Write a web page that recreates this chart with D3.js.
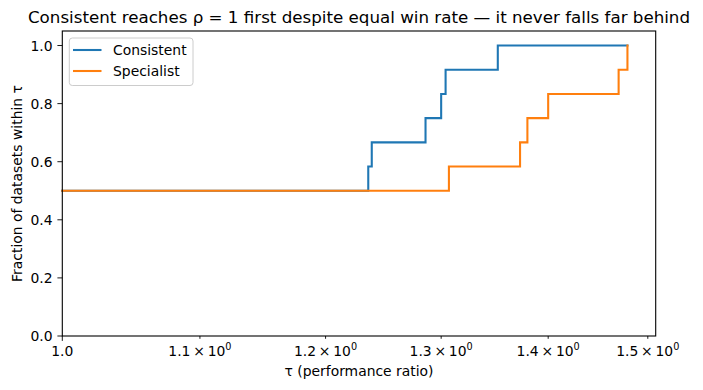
<!DOCTYPE html>
<html>
<head>
<meta charset="utf-8">
<script src="https://cdn.jsdelivr.net/npm/d3@7"></script>
<style>
  body { margin: 0; background: #fff; }
  text { font-family: "DejaVu Sans", sans-serif; fill: #000; }
</style>
</head>
<body>
<svg id="chart" width="703" height="390"></svg>
<script>
// ---- data ----
const seriesNames = ["Consistent", "Specialist"];
const consistentRatios = [1, 1, 1, 1, 1, 1, 1.236, 1.239, 1.286, 1.300, 1.304, 1.352];
const specialistRatios = [1, 1, 1, 1, 1, 1, 1.307, 1.373, 1.380, 1.400, 1.470, 1.479];
const xTicks = [1.0, 1.1, 1.2, 1.3, 1.4, 1.5];
const yTicks = [0.0, 0.2, 0.4, 0.6, 0.8, 1.0];
const colors = ["#1f77b4", "#ff7f0e"];

const svg = d3.select("#chart");
const margin = { left: 62.3, right: 703 - 655.7, top: 31, bottom: 390 - 336 };
const W = 703, H = 390;

const tauMax = d3.max([...consistentRatios, ...specialistRatios]);
const logMax = Math.log(tauMax);
const xMax = Math.exp(logMax * 1.05);

const x = d3.scaleLog().domain([1.0, xMax]).range([margin.left, W - margin.right]);
const y = d3.scaleLinear().domain([0, 1.05]).range([H - margin.bottom, margin.top]);

// ECDF step points
function profile(ratios) {
  const sorted = ratios.slice().sort((a, b) => a - b);
  const n = sorted.length;
  const uniq = Array.from(new Set(sorted));
  const pts = [];
  uniq.forEach(t => {
    pts.push([t, sorted.filter(v => v <= t).length / n]);
  });
  pts.push([tauMax, 1 * sorted.filter(v => v <= tauMax).length / n]);
  return pts;
}

const line = d3.line().x(d => x(d[0])).y(d => y(d[1])).curve(d3.curveStepAfter);

const plot = svg.append("g");
[consistentRatios, specialistRatios].forEach((r, i) => {
  plot.append("path")
    .attr("d", line(profile(r)))
    .attr("fill", "none")
    .attr("stroke", colors[i])
    .attr("stroke-width", 2.08)
    .attr("stroke-linejoin", "miter")
    .attr("stroke-linecap", "square");
});

// frame
svg.append("rect")
  .attr("x", margin.left).attr("y", margin.top)
  .attr("width", W - margin.right - margin.left)
  .attr("height", H - margin.bottom - margin.top)
  .attr("fill", "none").attr("stroke", "#000").attr("stroke-width", 1.1);

// x axis
const xAxis = svg.append("g").attr("transform", `translate(0,${H - margin.bottom})`);
xTicks.forEach((t, i) => {
  const px = x(t);
  const len = i === 0 ? 4.9 : 2.8;
  xAxis.append("line").attr("x1", px).attr("x2", px).attr("y1", 0).attr("y2", len)
    .attr("stroke", "#000").attr("stroke-width", 0.9);
  const txt = xAxis.append("text").attr("x", px).attr("y", 20)
    .attr("text-anchor", "middle").style("font-size", "13.9px");
  if (i === 0) {
    txt.text(d3.format(".1f")(t));
  } else {
    txt.append("tspan").text(d3.format(".1f")(t) + "\u2009\u00d7\u200910");
    txt.append("tspan").attr("dy", -6).style("font-size", "9.7px").text("0");
  }
});
svg.append("text").attr("x", (margin.left + W - margin.right) / 2).attr("y", 376)
  .attr("text-anchor", "middle").style("font-size", "13.9px").text("τ (performance ratio)");

// y axis
const yAxis = svg.append("g");
yTicks.forEach(t => {
  const py = y(t);
  yAxis.append("line").attr("x1", margin.left - 4.9).attr("x2", margin.left)
    .attr("y1", py).attr("y2", py).attr("stroke", "#000").attr("stroke-width", 0.9);
  yAxis.append("text").attr("x", margin.left - 9.7).attr("y", py + 5)
    .attr("text-anchor", "end").style("font-size", "13.9px").text(d3.format(".1f")(t));
});
svg.append("text")
  .attr("transform", `translate(22,${(margin.top + H - margin.bottom) / 2}) rotate(-90)`)
  .attr("text-anchor", "middle").style("font-size", "13.9px")
  .text("Fraction of datasets within τ");

// title
svg.append("text").attr("x", (margin.left + W - margin.right) / 2).attr("y", 23)
  .attr("text-anchor", "middle").style("font-size", "16.7px")
  .text("Consistent reaches ρ = 1 first despite equal win rate — it never falls far behind");

// legend
const lg = svg.append("g");
lg.append("rect").attr("x", 69.3).attr("y", 38).attr("width", 123.7).attr("height", 47.5)
  .attr("rx", 3).attr("fill", "#fff").attr("fill-opacity", 0.8)
  .attr("stroke", "#cccccc").attr("stroke-width", 1);
seriesNames.forEach((n, i) => {
  const ly = 50 + i * 21;
  lg.append("line").attr("x1", 73).attr("x2", 101.5).attr("y1", ly).attr("y2", ly)
    .attr("stroke", colors[i]).attr("stroke-width", 2.08);
  lg.append("text").attr("x", 113).attr("y", ly + 5).style("font-size", "13.9px").text(n);
});
</script>
</body>
</html>
